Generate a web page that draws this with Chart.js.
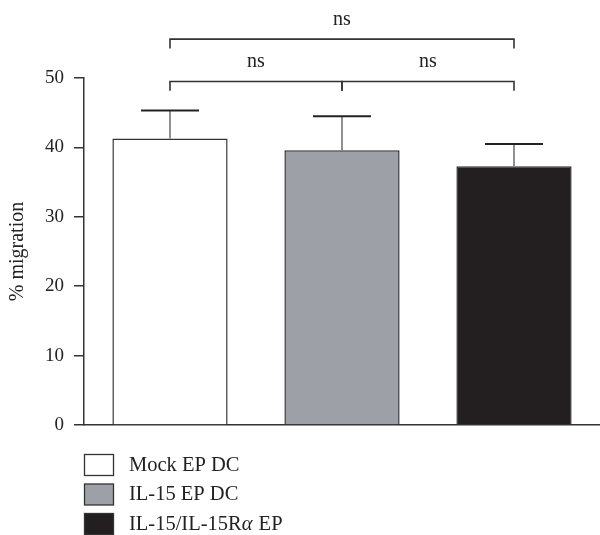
<!DOCTYPE html>
<html>
<head>
<meta charset="utf-8">
<script src="https://cdn.jsdelivr.net/npm/chart.js@4/dist/chart.umd.min.js"></script>
<style>
html,body{margin:0;padding:0;background:#fff;}
#wrap{position:relative;width:600px;height:535px;}
canvas{display:block;}
</style>
</head>
<body>
<div id="wrap"><canvas id="c" width="600" height="535"></canvas></div>
<script>
const categories = ["Mock EP DC", "IL-15 EP DC", "IL-15/IL-15R\u03B1 EP"];
const means = [41.3, 39.6, 37.3];
const errTop = [45.3, 44.5, 40.5];
const fills = ["#ffffff", "#9ea0a7", "#231f20"];
const yTicks = [0, 10, 20, 30, 40, 50];
// significance brackets: [from, to, bracket y, label y, label]
const brackets = [
  [0, 1, 49.5, 52.3, "ns"],
  [1, 2, 49.5, 52.3, "ns"],
  [0, 2, 55.6, 58.4, "ns"]
];
const bracketDrop = 1.35;

const FONT = "'Liberation Serif', 'DejaVu Serif', serif";

const overlay = {
  id: 'overlay',
  afterDatasetsDraw(chart) {
    const ctx = chart.ctx;
    const y = chart.scales.y;
    const meta = chart.getDatasetMeta(0);
    ctx.save();
    // error bars
    means.forEach((m, i) => {
      const bx = meta.data[i].x;
      const y0 = y.getPixelForValue(m);
      const y1 = y.getPixelForValue(errTop[i]);
      ctx.strokeStyle = '#555';
      ctx.lineWidth = 1.3;
      ctx.beginPath(); ctx.moveTo(bx, y0); ctx.lineTo(bx, y1); ctx.stroke();
      ctx.strokeStyle = '#222';
      ctx.lineWidth = 2;
      ctx.beginPath(); ctx.moveTo(bx - 29, y1); ctx.lineTo(bx + 29, y1); ctx.stroke();
    });
    // brackets
    ctx.strokeStyle = '#333';
    ctx.lineWidth = 1.6;
    ctx.fillStyle = '#222';
    ctx.font = "20px " + FONT;
    ctx.textAlign = 'center';
    ctx.textBaseline = 'middle';
    brackets.forEach(b => {
      const xa = meta.data[b[0]].x, xb = meta.data[b[1]].x;
      const yy = y.getPixelForValue(b[2]);
      const yd = y.getPixelForValue(b[2] - bracketDrop);
      ctx.beginPath();
      ctx.moveTo(xa, yd); ctx.lineTo(xa, yy); ctx.lineTo(xb, yy); ctx.lineTo(xb, yd);
      ctx.stroke();
      ctx.fillText(b[4], (xa + xb) / 2, y.getPixelForValue(b[3]));
    });
    // legend
    ctx.textAlign = 'left';
    categories.forEach((c, i) => {
      const ly = 454.5 + i * 29.5;
      ctx.fillStyle = fills[i];
      ctx.fillRect(84.5, ly, 29, 21);
      ctx.strokeStyle = '#333';
      ctx.lineWidth = 1.3;
      ctx.strokeRect(84.5, ly, 29, 21);
      ctx.fillStyle = '#222';
      // draw Greek letters in italic, as in the reference
      let tx = 129;
      c.split(/(\u03B1)/).forEach(part => {
        if (!part) return;
        ctx.font = (part === '\u03B1' ? 'italic ' : '') + "20.5px " + FONT;
        ctx.fillText(part, tx, ly + 11);
        tx += ctx.measureText(part).width + (part === '\u03B1' ? 1 : 0);
      });
    });
    ctx.restore();
  }
};

new Chart(document.getElementById('c'), {
  type: 'bar',
  data: {
    labels: categories,
    datasets: [{
      data: means,
      backgroundColor: fills,
      borderColor: '#333',
      borderWidth: 1.5,
      borderSkipped: 'bottom',
      barPercentage: 0.67,
      categoryPercentage: 1.0
    }]
  },
  options: {
    responsive: false,
    animation: false,
    devicePixelRatio: 1,
    layout: { padding: { top: 78, right: 0, bottom: 102, left: 0 } },
    plugins: { legend: { display: false }, tooltip: { enabled: false } },
    scales: {
      x: {
        grid: { display: false },
        ticks: { display: false },
        border: { display: true, color: '#333', width: 1.5 }
      },
      y: {
        min: 0, max: 50,
        afterFit: s => { s.width = 84; },
        afterBuildTicks: s => { s.ticks = yTicks.map(v => ({ value: v })); },
        ticks: { color: '#222', font: { family: FONT, size: 19 }, padding: 10 },
        grid: { drawOnChartArea: false, tickLength: 10, color: '#333', lineWidth: 1.5 },
        border: { display: true, color: '#333', width: 1.5 },
        title: { display: true, text: '% migration', color: '#222', font: { family: FONT, size: 20 }, padding: { top: 6, bottom: 0 } }
      }
    }
  },
  plugins: [overlay]
});
</script>
</body>
</html>
